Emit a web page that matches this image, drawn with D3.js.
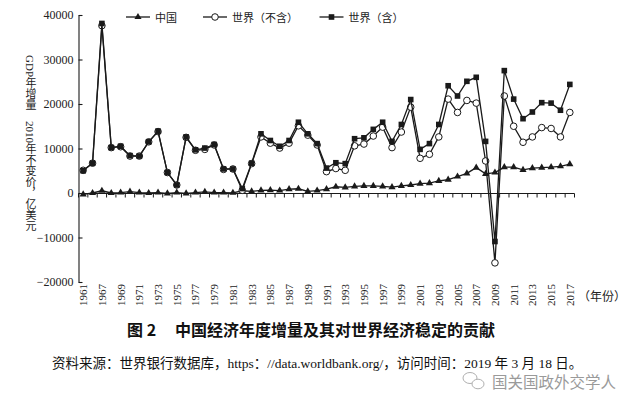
<!DOCTYPE html>
<html><head><meta charset="utf-8">
<script src="https://cdn.jsdelivr.net/npm/d3@7"></script>
<style>body{margin:0;background:#fff}svg{display:block}</style>
</head><body>
<svg id="c" width="640" height="412"></svg>
<script>
const categories = ["1961","1966","1967","1968","1969","1970","1971","1972","1973","1974","1975","1976","1977","1978","1979","1980","1981","1982","1983","1984","1985","1986","1987","1988","1989","1990","1991","1992","1993","1994","1995","1996","1997","1998","1999","2000","2001","2002","2003","2004","2005","2006","2007","2008","2009","2010","2011","2012","2013","2014","2015","2016","2017"];
const tickLabels = ["1961","1967","1969","1971","1973","1975","1977","1979","1981","1983","1985","1987","1989","1991","1993","1995","1997","1999","2001","2003","2005","2007","2009","2011","2013","2015","2017"];
const china = [-300,0,500,0,100,300,100,0,100,-100,100,-100,100,250,100,100,50,500,350,600,650,550,850,950,350,550,850,1400,1250,1500,1600,1600,1500,1300,1600,1800,2100,2200,2700,3000,3700,4400,5700,4300,4600,5800,5800,5200,5600,5700,5800,6000,6500];
const worldExcl = [5100,6700,37600,10200,10400,8300,8300,11500,13800,4600,1800,12500,9600,9800,10800,5300,5400,600,6600,12600,11200,10100,11200,15100,13000,10800,4800,5500,5100,10600,11000,12800,14800,10200,13700,19300,7800,8700,12600,21100,18100,20800,20200,7200,-15700,21800,15000,11400,12600,14700,14500,12600,18100];
const worldIncl = [5000,6700,38100,10200,10500,8400,8300,11500,13900,4600,1800,12600,9700,10100,10900,5400,5400,1000,6700,13300,11800,10500,11800,15900,13300,11100,5600,6800,6600,12200,12400,14300,15900,11600,15400,21000,9800,11100,15400,24100,21800,25100,26000,11600,-10900,27500,21100,16700,18200,20300,20200,18600,24400];
const yTicks = [-20000,-10000,0,10000,20000,30000,40000];
const seriesNames = ["中国","世界（不含）","世界（含）"];
const yTitle = "GDP年增量　2010年不变价，亿美元";
const xUnit = "（年份）";
const title1 = "图 2";
const title2 = "中国经济年度增量及其对世界经济稳定的贡献";
const source = "资料来源：世界银行数据库，https：//data.worldbank.org/，访问时间：2019 年 3 月 18 日。";
const watermark = "国关国政外交学人";

const serif = "'Liberation Serif','Noto Sans CJK SC',serif";
const cjk = "'Noto Sans CJK SC','Liberation Serif',sans-serif";
const ink = "#1a1a1a";

const svg = d3.select("#c");
const x = d3.scaleBand().domain(categories).range([78.5, 574.5]).padding(0);
const y = d3.scaleLinear().domain([-20000, 40000]).range([282, 15]);
const cx = d => x(d) + x.bandwidth() / 2;

// Y axis
const yAxis = svg.append("g").attr("transform", "translate(78.5,0)")
  .call(d3.axisLeft(y).tickValues(yTicks).tickSizeInner(-4).tickSizeOuter(0).tickPadding(5)
    .tickFormat(d => d < 0 ? "\u2212" + Math.abs(d) : String(d)));
yAxis.selectAll("path,line").attr("stroke", ink).attr("stroke-width", 1.1);
yAxis.selectAll("text").attr("font-family", serif).attr("font-size", 12).attr("fill", "#222");

// X axis on zero line
const y0 = Math.round(y(0)) + 0.5;
const xg = svg.append("g");
xg.append("line").attr("x1", x.range()[0]).attr("x2", x.range()[1]).attr("y1", y0).attr("y2", y0)
  .attr("stroke", ink).attr("stroke-width", 1.1);
const bounds = categories.map(c => x(c)).concat([x(categories[categories.length - 1]) + x.bandwidth()]);
xg.selectAll("line.tk").data(bounds).join("line").attr("class", "tk")
  .attr("x1", d => d).attr("x2", d => d).attr("y1", y0).attr("y2", y0 + 4)
  .attr("stroke", ink).attr("stroke-width", 1);
svg.append("g").selectAll("text").data(tickLabels).join("text")
  .attr("transform", d => `translate(${cx(d)},284) rotate(-90)`)
  .attr("text-anchor", "end").attr("dominant-baseline", "central")
  .attr("font-family", serif).attr("font-size", 11).attr("fill", "#222").text(d => d);
svg.append("text").attr("x", 578).attr("y", 295).attr("dominant-baseline", "central")
  .attr("font-family", cjk).attr("font-size", 12).attr("fill", "#222").text(xUnit);

// Y title (vertical writing mode)
svg.append("text").attr("x", 30).attr("y", 55)
  .style("writing-mode", "vertical-rl").style("text-orientation", "mixed")
  .attr("font-family", serif).attr("font-size", 11).attr("fill", "#222").text(yTitle);

// Lines
const line = d3.line().x((d, i) => cx(categories[i])).y(d => y(d));
const triangle = d3.symbol(d3.symbolTriangle).size(22);
function drawSeries(data, kind) {
  svg.append("path").datum(data).attr("d", line).attr("fill", "none").attr("stroke", ink).attr("stroke-width", 1.3);
  const g = svg.append("g");
  if (kind === "tri") {
    g.selectAll("path").data(data).join("path").attr("d", triangle)
      .attr("transform", (d, i) => `translate(${cx(categories[i])},${y(d)})`).attr("fill", ink);
  } else if (kind === "circ") {
    g.selectAll("circle").data(data).join("circle").attr("cx", (d, i) => cx(categories[i])).attr("cy", d => y(d))
      .attr("r", 3.3).attr("fill", "#fff").attr("stroke", ink).attr("stroke-width", 1);
  } else {
    g.selectAll("rect").data(data).join("rect").attr("x", (d, i) => cx(categories[i]) - 2.8).attr("y", d => y(d) - 2.8)
      .attr("width", 5.6).attr("height", 5.6).attr("fill", ink);
  }
}
drawSeries(china, "tri");
drawSeries(worldExcl, "circ");
drawSeries(worldIncl, "sq");

// Legend
const leg = [
  {name: seriesNames[0], x1: 126, kind: "tri"},
  {name: seriesNames[1], x1: 203, kind: "circ"},
  {name: seriesNames[2], x1: 319.5, kind: "sq"}
];
const ly = 17;
leg.forEach(l => {
  svg.append("line").attr("x1", l.x1).attr("x2", l.x1 + 24).attr("y1", ly).attr("y2", ly).attr("stroke", ink).attr("stroke-width", 1.3);
  const mx = l.x1 + 12;
  if (l.kind === "tri") svg.append("path").attr("d", triangle).attr("transform", `translate(${mx},${ly})`).attr("fill", ink);
  else if (l.kind === "circ") svg.append("circle").attr("cx", mx).attr("cy", ly).attr("r", 3.3).attr("fill", "#fff").attr("stroke", ink);
  else svg.append("rect").attr("x", mx - 2.8).attr("y", ly - 2.8).attr("width", 5.6).attr("height", 5.6).attr("fill", ink);
  svg.append("text").attr("x", l.x1 + 29).attr("y", ly).attr("dominant-baseline", "central")
    .attr("font-family", cjk).attr("font-size", 11).attr("fill", "#222").text(l.name);
});

// Title
svg.append("text").attr("x", 127).attr("y", 336).attr("font-family", cjk).attr("font-size", 16)
  .attr("font-weight", "bold").attr("fill", "#111").text(title1);
svg.append("text").attr("x", 175).attr("y", 336).attr("font-family", cjk).attr("font-size", 16)
  .attr("font-weight", "bold").attr("fill", "#111").text(title2);

// Source
svg.append("text").attr("x", 52).attr("y", 368).attr("font-family", serif).attr("font-size", 13.5)
  .attr("fill", "#111").text(source);

// Watermark
const wm = svg.append("g").attr("fill", "none").attr("stroke", "#b0b0b0").attr("stroke-width", 1);
wm.append("ellipse").attr("cx", 470).attr("cy", 378).attr("rx", 7).attr("ry", 5.5);
wm.append("ellipse").attr("cx", 478).attr("cy", 384).attr("rx", 6).attr("ry", 4.8).attr("fill", "#fff");
svg.append("text").attr("x", 492).attr("y", 381).attr("dominant-baseline", "central")
  .attr("font-family", cjk).attr("font-size", 15.5).attr("fill", "#9a9a9a").text(watermark);
</script>
</body></html>
